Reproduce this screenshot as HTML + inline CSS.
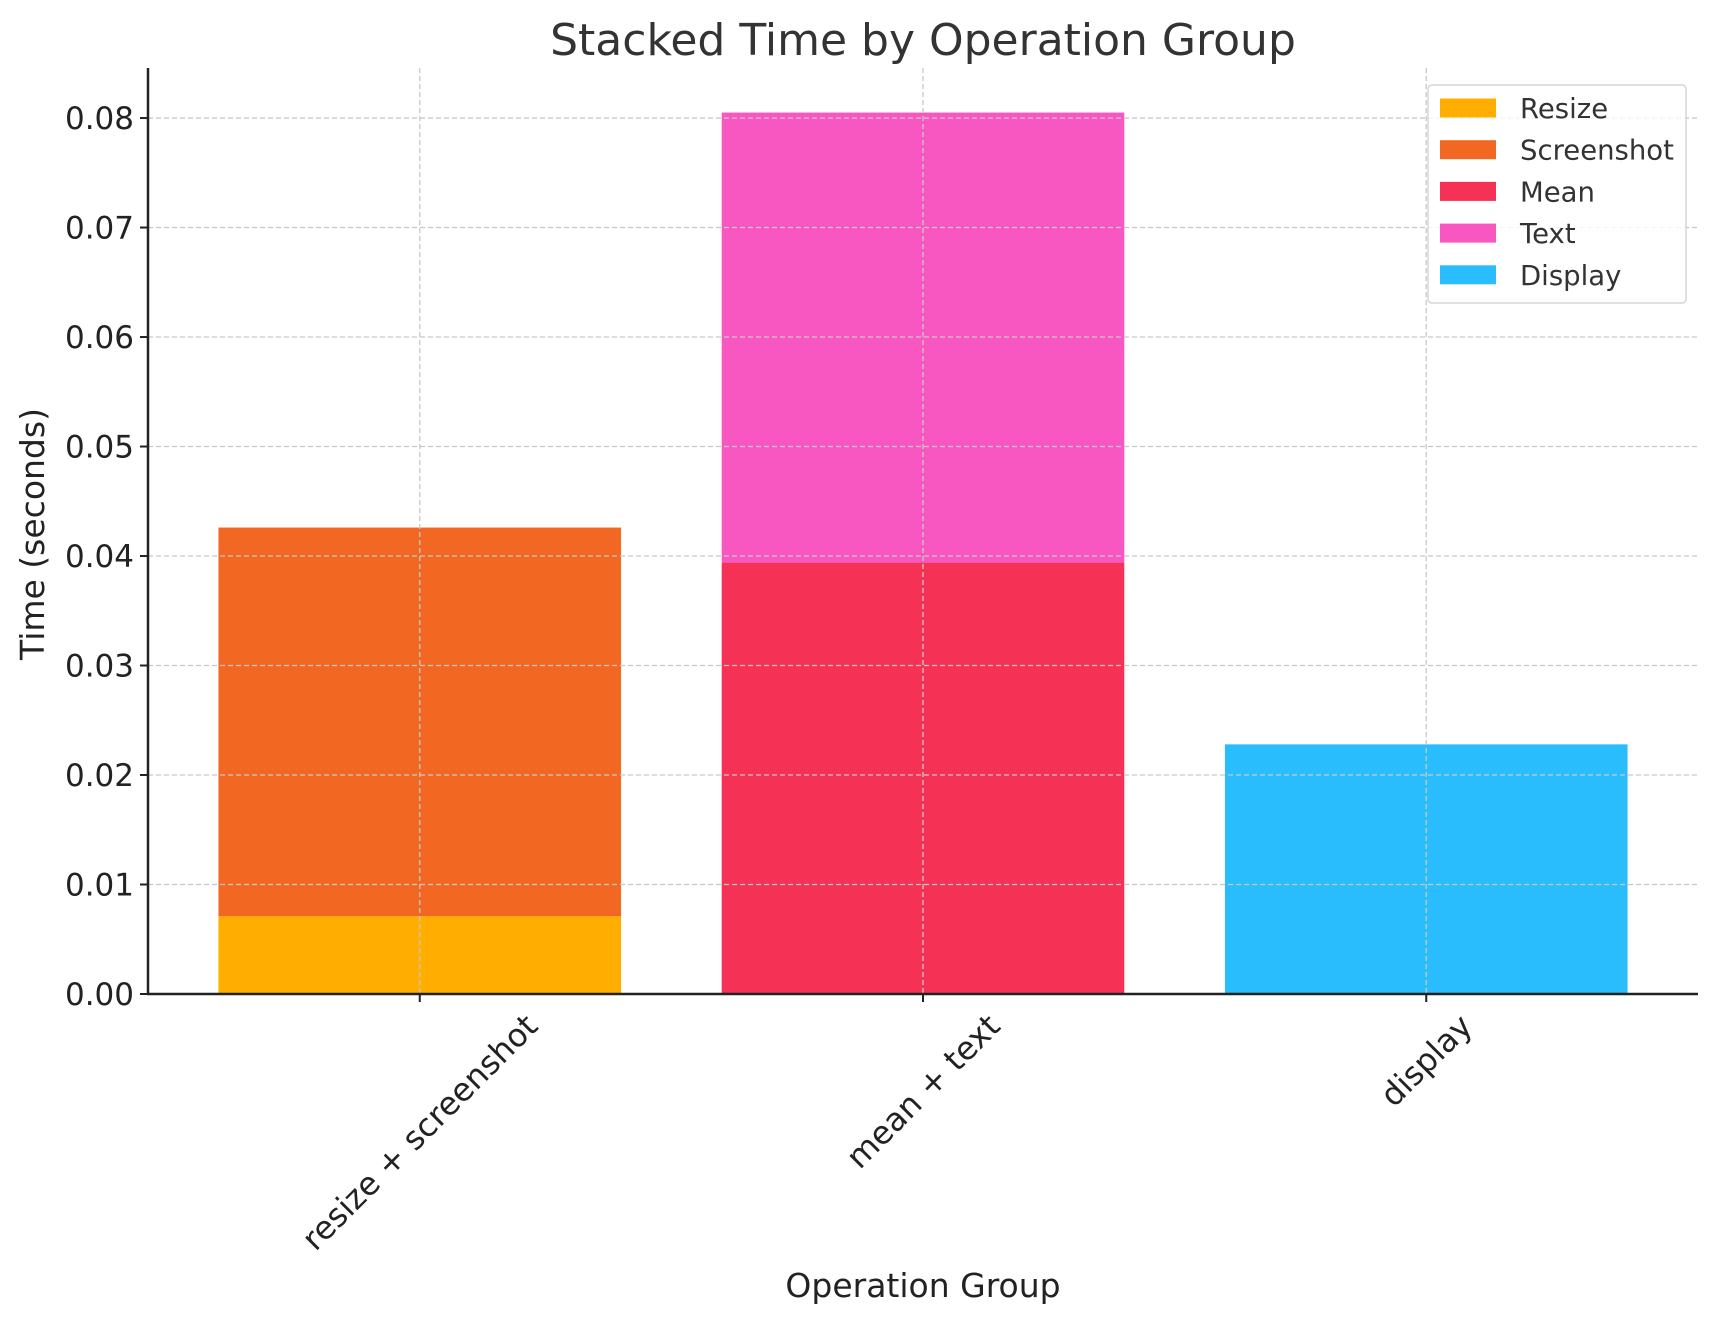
<!DOCTYPE html>
<html><head><meta charset="utf-8"><style>
html,body{margin:0;padding:0;background:#fff;}
svg{display:block;font-family:"DejaVu Sans","Liberation Sans",sans-serif;}
</style></head><body>
<svg id="chart" width="1718" height="1325" viewBox="0 0 1718 1325">
<rect x="0" y="0" width="1718" height="1325" fill="#fff"/>
<g id="grid"></g><g id="bars"></g><g id="axes"></g><g id="legend"></g>
<text x="923" y="55" text-anchor="middle" font-size="44" fill="#333">Stacked Time by Operation Group</text>
<text x="923" y="1297" text-anchor="middle" font-size="33" fill="#222">Operation Group</text>
<text transform="translate(44,534) rotate(-90)" text-anchor="middle" font-size="33" fill="#222">Time (seconds)</text>
</svg>
<script>
const categories=["resize + screenshot","mean + text","display"];
const seriesNames=["Resize","Screenshot","Mean","Text","Display"];
const seriesColors=["#FFAE00","#F26822","#F53155","#F857C1","#29BDFD"];
const resizeVals=[0.0071,0,0];
const screenshotVals=[0.0355,0,0];
const meanVals=[0,0.0394,0];
const textVals=[0,0.0411,0];
const displayVals=[0,0,0.0228];
const yTicks=[0,0.01,0.02,0.03,0.04,0.05,0.06,0.07,0.08];
const yTickLabels=["0.00","0.01","0.02","0.03","0.04","0.05","0.06","0.07","0.08"];
const series=[resizeVals,screenshotVals,meanVals,textVals,displayVals];

const NS="http://www.w3.org/2000/svg";
const L=148,R=1698,T=68,B=994;
const xMin=-0.54,xMax=2.54,yMax=0.08457;
const xs=v=>L+(v-xMin)/(xMax-xMin)*(R-L);
const ys=v=>B-v/yMax*(B-T);
function mk(tag,attrs,parent){const e=document.createElementNS(NS,tag);for(const k in attrs)e.setAttribute(k,attrs[k]);parent.appendChild(e);return e;}
const grid=document.getElementById('grid'),bars=document.getElementById('bars'),axes=document.getElementById('axes'),leg=document.getElementById('legend');

yTicks.forEach((t,i)=>{
  const y=ys(t);
  if(i>0){const g=mk('line',{x1:L,x2:R,y1:y,y2:y,stroke:'#c8c8c8','stroke-width':1.3,'stroke-dasharray':'5,3'},grid);
  
  }
  const tk=mk('line',{x1:L-8,x2:L,y1:y,y2:y,stroke:'#222','stroke-width':2},axes);
  
  
  const tl=mk('text',{x:L-14,y:y+11,'text-anchor':'end','font-size':31,fill:'#222'},axes);
  tl.textContent=yTickLabels[i];
  
  
});
categories.forEach((c,i)=>{
  const x=xs(i);
  const g=mk('line',{x1:x,x2:x,y1:T,y2:B,stroke:'#c8c8c8','stroke-width':1.3,'stroke-dasharray':'5,3'},grid);
  
  
});
categories.forEach((c,i)=>{
  let base=0;
  series.forEach((s,k)=>{
    const v=s[i]; if(!v) return;
    const r=mk('rect',{x:xs(i-0.4),y:ys(base+v),width:xs(i+0.4)-xs(i-0.4),height:ys(base)-ys(base+v),fill:seriesColors[k]},bars);
    
    
    base+=v;
  });
});
bars.parentNode.insertBefore(bars,grid);
const ax1=mk('line',{x1:L,x2:L,y1:T,y2:B+1,stroke:'#222','stroke-width':2.5},axes);


const ax2=mk('line',{x1:L-1,x2:R,y1:B,y2:B,stroke:'#222','stroke-width':2.5},axes);


categories.forEach((c,i)=>{
  const x=xs(i);
  const tk=mk('line',{x1:x,x2:x,y1:B,y2:B+8,stroke:'#222','stroke-width':2},axes);
  
  
  const t=mk('text',{'text-anchor':'middle','font-size':32,fill:'#222','dominant-baseline':'central'},axes);
  t.textContent=c;
  
  
  const len=t.getComputedTextLength();
  const cy=1009+(len+32)*0.7071/2;
  t.setAttribute('transform','translate('+x+','+cy+') rotate(-45)');
});
const box=mk('rect',{x:1428,y:85,width:258,height:218,rx:4,fill:'#fff','fill-opacity':0.8,stroke:'#d5d5d5','stroke-width':1.5},leg);


seriesNames.forEach((n,k)=>{
  const cy=108+k*41.7;
  const p=mk('rect',{x:1440,y:cy-9.5,width:56,height:19,fill:seriesColors[k]},leg);
  
  
  const t=mk('text',{x:1520,y:cy+10,'font-size':27.5,fill:'#333'},leg);
  t.textContent=n;
  
  
});
</script>
</body></html>
